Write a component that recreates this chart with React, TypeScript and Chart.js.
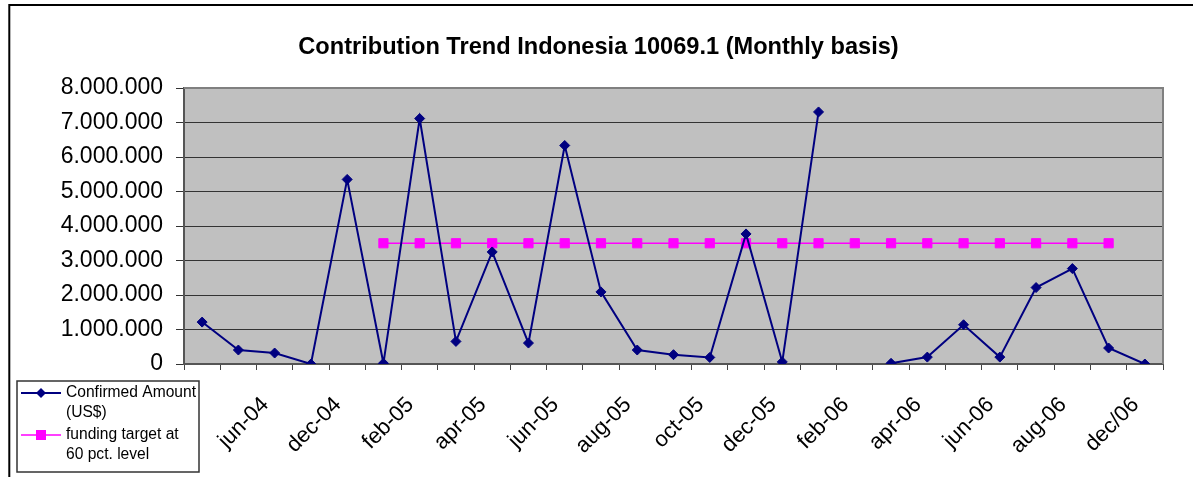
import React, { useEffect, useRef } from 'react';
import { Chart, registerables } from 'chart.js';

Chart.register(...registerables);

const TITLE = 'Contribution Trend Indonesia 10069.1 (Monthly basis)';

const categories = [
  'apr-04', 'jun-04', 'sep-04', 'dec-04', 'jan-05', 'feb-05', 'mar-05', 'apr-05', 'may-05',
  'jun-05', 'jul-05', 'aug-05', 'sep-05', 'oct-05', 'nov-05', 'dec-05', 'jan-06', 'feb-06',
  'mar-06', 'apr-06', 'may-06', 'jun-06', 'jul-06', 'aug-06', 'oct-06', 'dec/06', 'jan-07',
];

const confirmedAmount: (number | null)[] = [
  1215000, 405000, 318000, 0, 5350000, 20000, 7115000, 654000, 3248000,
  607000, 6334000, 2090000, 405000, 270000, 190000, 3770000, 60000, 7306000,
  null, 20000, 200000, 1137000, 200000, 2216000, 2766000, 463000, 0,
];

const fundingTarget: (number | null)[] = [
  null, null, null, null, null, 3500000, 3500000, 3500000, 3500000,
  3500000, 3500000, 3500000, 3500000, 3500000, 3500000, 3500000, 3500000, 3500000,
  3500000, 3500000, 3500000, 3500000, 3500000, 3500000, 3500000, 3500000, null,
];

const seriesNames = ['Confirmed Amount (US$)', 'funding target at 60 pct. level'];
const legendLines = [
  ['Confirmed Amount', '(US$)'],
  ['funding target at', '60 pct. level'],
];

const Y_MIN = 0;
const Y_MAX = 8000000;
const Y_STEP = 1000000;

const NAVY = '#000080';
const MAGENTA = '#FF00FF';
const FONT = '"Liberation Sans", Arial, Helvetica, sans-serif';

const formatThousands = (v: number) =>
  String(Math.round(v)).replace(/\B(?=(\d{3})+(?!\d))/g, '.');

const decorPlugin = {
  id: 'excelDecor',
  beforeDraw(chart: any) {
    const { ctx, chartArea: a, width, height } = chart;
    ctx.save();
    ctx.fillStyle = '#ffffff';
    ctx.fillRect(0, 0, width, height);
    ctx.fillStyle = '#C0C0C0';
    ctx.fillRect(a.left, a.top, a.right - a.left, a.bottom - a.top);
    // outer chart frame
    ctx.strokeStyle = '#000000';
    ctx.lineWidth = 2;
    ctx.beginPath();
    ctx.moveTo(9.3, height + 5);
    ctx.lineTo(9.3, 5);
    ctx.lineTo(width + 5, 5);
    ctx.stroke();
    // title
    ctx.fillStyle = '#000000';
    ctx.font = `bold 23.6px ${FONT}`;
    ctx.textAlign = 'center';
    ctx.textBaseline = 'middle';
    ctx.fillText(TITLE, 598.5, 47);
    ctx.restore();
  },
  beforeDatasetsDraw(chart: any) {
    const { ctx, chartArea: a } = chart;
    ctx.save();
    ctx.strokeStyle = '#808080';
    ctx.lineWidth = 2;
    ctx.beginPath();
    ctx.moveTo(a.left, a.top);
    ctx.lineTo(a.right, a.top);
    ctx.lineTo(a.right, a.bottom);
    ctx.stroke();
    ctx.restore();
  },
  afterDraw(chart: any) {
    const { ctx } = chart;
    const datasets = chart.data.datasets;
    ctx.save();
    // legend box
    ctx.fillStyle = '#ffffff';
    ctx.fillRect(17, 381, 182, 91);
    ctx.strokeStyle = '#333333';
    ctx.lineWidth = 1.5;
    ctx.strokeRect(17, 381, 182, 91);
    const itemY = [393, 435];
    datasets.forEach((ds: any, i: number) => {
      const y = itemY[i];
      ctx.strokeStyle = ds.borderColor;
      ctx.lineWidth = i === 0 ? 2 : 1.5;
      ctx.beginPath();
      ctx.moveTo(21, y);
      ctx.lineTo(61, y);
      ctx.stroke();
      ctx.fillStyle = ds.pointBackgroundColor;
      ctx.beginPath();
      if (i === 0) {
        ctx.moveTo(41, y - 5);
        ctx.lineTo(46, y);
        ctx.lineTo(41, y + 5);
        ctx.lineTo(36, y);
        ctx.closePath();
      } else {
        ctx.rect(36, y - 5, 10, 10);
      }
      ctx.fill();
      ctx.fillStyle = '#000000';
      ctx.font = `15.6px ${FONT}`;
      ctx.textAlign = 'left';
      ctx.textBaseline = 'middle';
      legendLines[i].forEach((t, j) => ctx.fillText(t, 66, y + j * 20));
    });
    ctx.restore();
  },
};

export default function App() {
  const canvasRef = useRef<HTMLCanvasElement | null>(null);

  useEffect(() => {
    if (!canvasRef.current) return;
    const chart = new Chart(canvasRef.current, {
      type: 'line',
      data: {
        labels: categories,
        datasets: [
          {
            label: seriesNames[0],
            data: confirmedAmount,
            borderColor: NAVY,
            backgroundColor: NAVY,
            pointBackgroundColor: NAVY,
            pointBorderColor: NAVY,
            borderWidth: 2,
            pointStyle: 'rectRot',
            pointRadius: 5,
            pointBorderWidth: 1,
            tension: 0,
            spanGaps: false,
          },
          {
            label: seriesNames[1],
            data: fundingTarget,
            borderColor: MAGENTA,
            backgroundColor: MAGENTA,
            pointBackgroundColor: MAGENTA,
            pointBorderColor: MAGENTA,
            borderWidth: 1.5,
            pointStyle: 'rect',
            pointRadius: 6.5,
            pointBorderWidth: 1,
            tension: 0,
            spanGaps: false,
          },
        ],
      },
      options: {
        responsive: false,
        animation: false,
        devicePixelRatio: 1,
        layout: { padding: { top: 88, right: 30, bottom: 0, left: 0 } },
        plugins: {
          legend: { display: false },
          title: { display: false },
          tooltip: { enabled: false },
        },
        scales: {
          x: {
            type: 'category',
            offset: true,
            grid: {
              offset: true,
              drawOnChartArea: false,
              drawTicks: true,
              tickLength: 6,
              color: '#444444',
              lineWidth: 1,
            },
            border: { display: true, color: '#555555', width: 2 },
            ticks: {
              autoSkip: false,
              maxRotation: 45,
              minRotation: 45,
              padding: 22,
              labelOffset: 27,
              color: '#000000',
              font: { family: FONT, size: 22 },
              callback: (_v: any, i: number) => (i % 2 === 1 ? categories[i] : ''),
            },
            afterFit: (scale: any) => {
              scale.height = 113;
            },
          },
          y: {
            min: Y_MIN,
            max: Y_MAX,
            grid: {
              color: '#333333',
              lineWidth: 1,
              tickLength: 8,
            },
            border: { display: true, color: '#555555', width: 2 },
            ticks: {
              stepSize: Y_STEP,
              padding: 13,
              color: '#000000',
              font: { family: FONT, size: 23 },
              callback: (v: any) => formatThousands(Number(v)),
            },
            afterFit: (scale: any) => {
              scale.width = 184;
            },
          },
        },
      },
      plugins: [decorPlugin],
    });
    return () => chart.destroy();
  }, []);

  return (
    <div style={{ position: 'fixed', left: 0, top: 0, width: 1193, height: 477, background: '#fff' }}>
      <canvas ref={canvasRef} width={1193} height={477} style={{ display: 'block' }} />
    </div>
  );
}
